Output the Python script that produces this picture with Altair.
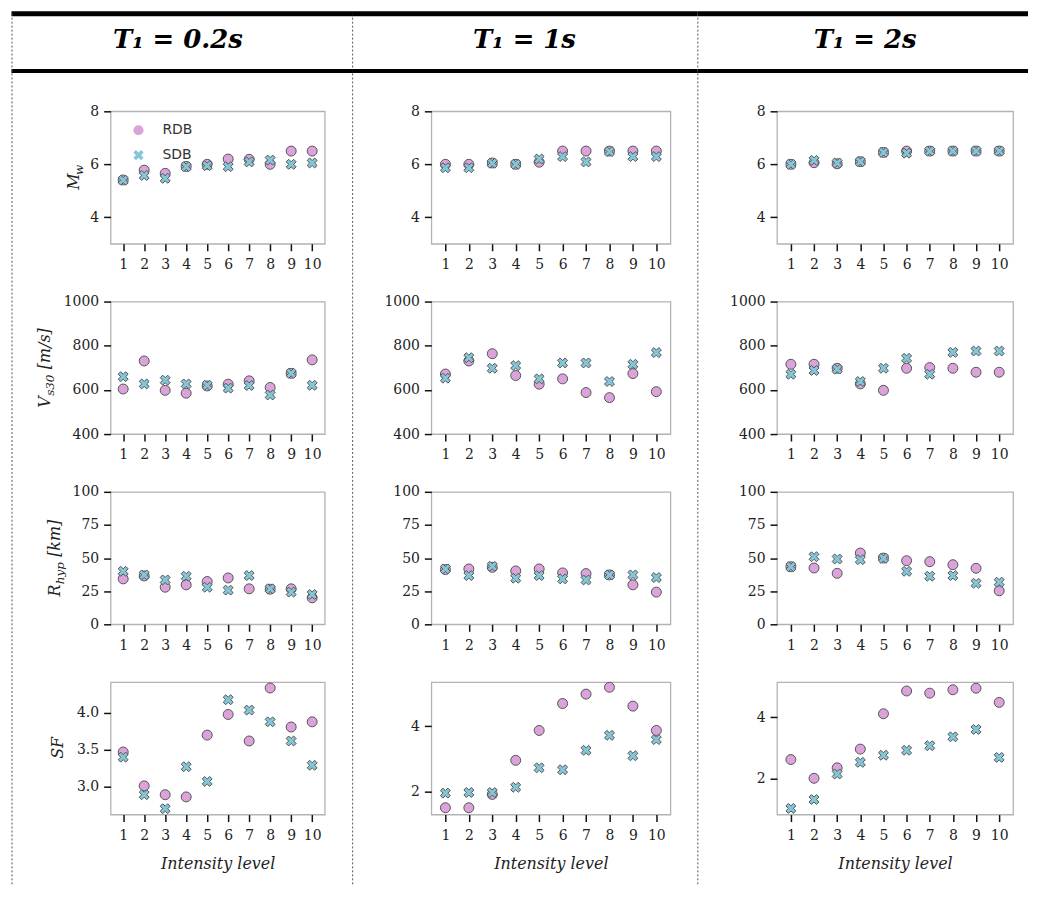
import altair as alt
import pandas as pd

# ---------------- data ----------------
LEVELS = list(range(1, 11))
SERIES = ["RDB", "SDB"]
PERIOD_LABELS = ["T\u2081 = 0.2s", "T\u2081 = 1s", "T\u2081 = 2s"]

# T1 = 0.2 s
mw_rdb_02 = [5.41, 5.78, 5.66, 5.92, 6.0, 6.2, 6.19, 6.0, 6.5, 6.5]
mw_sdb_02 = [5.4, 5.58, 5.47, 5.91, 5.95, 5.91, 6.09, 6.16, 6.0, 6.05]
vs_rdb_02 = [604, 731, 598, 585, 618, 626, 641, 611, 675, 736]
vs_sdb_02 = [660, 627, 644, 627, 621, 608, 620, 577, 675, 621]
rh_rdb_02 = [34.3, 36.5, 28.0, 29.8, 32.3, 35.0, 26.8, 26.5, 26.8, 20.0]
rh_sdb_02 = [40.0, 37.3, 33.5, 36.3, 28.0, 25.8, 36.8, 26.8, 24.3, 22.5]
sf_rdb_02 = [3.47, 3.01, 2.89, 2.86, 3.70, 3.98, 3.62, 4.34, 3.81, 3.88]
sf_sdb_02 = [3.40, 2.89, 2.70, 3.27, 3.07, 4.18, 4.04, 3.88, 3.62, 3.29]

# T1 = 1 s
mw_rdb_1 = [6.0, 6.0, 6.05, 6.0, 6.08, 6.5, 6.5, 6.5, 6.5, 6.5]
mw_sdb_1 = [5.87, 5.87, 6.04, 6.0, 6.2, 6.29, 6.09, 6.48, 6.29, 6.29]
vs_rdb_1 = [672, 731, 764, 665, 626, 650, 588, 565, 674, 592]
vs_sdb_1 = [653, 746, 698, 710, 650, 722, 722, 638, 716, 769]
rh_rdb_1 = [41.3, 41.8, 43.0, 40.3, 41.8, 38.8, 38.3, 37.3, 29.8, 24.3]
rh_sdb_1 = [41.8, 36.8, 43.8, 34.8, 36.8, 34.3, 33.5, 37.3, 37.3, 35.3]
sf_rdb_1 = [1.49, 1.49, 1.90, 2.95, 3.87, 4.70, 4.99, 5.20, 4.62, 3.87]
sf_sdb_1 = [1.94, 1.96, 1.96, 2.12, 2.72, 2.66, 3.26, 3.72, 3.09, 3.59]

# T1 = 2 s
mw_rdb_2 = [6.0, 6.06, 6.02, 6.1, 6.45, 6.5, 6.5, 6.5, 6.5, 6.5]
mw_sdb_2 = [6.0, 6.15, 6.05, 6.1, 6.45, 6.42, 6.5, 6.5, 6.5, 6.5]
vs_rdb_2 = [716, 716, 698, 627, 598, 698, 701, 698, 680, 680]
vs_sdb_2 = [671, 688, 694, 638, 698, 743, 671, 770, 776, 776]
rh_rdb_2 = [43.5, 42.5, 38.5, 53.8, 50.0, 48.0, 47.3, 45.0, 42.3, 25.3]
rh_sdb_2 = [43.5, 51.0, 49.3, 48.8, 49.8, 40.0, 36.3, 36.8, 31.0, 31.8]
sf_rdb_2 = [2.63, 2.02, 2.36, 2.97, 4.12, 4.86, 4.79, 4.90, 4.95, 4.49]
sf_sdb_2 = [1.04, 1.33, 2.16, 2.54, 2.77, 2.93, 3.08, 3.37, 3.61, 2.70]

PANELS = [
    [(mw_rdb_02, mw_sdb_02), (vs_rdb_02, vs_sdb_02), (rh_rdb_02, rh_sdb_02), (sf_rdb_02, sf_sdb_02)],
    [(mw_rdb_1, mw_sdb_1), (vs_rdb_1, vs_sdb_1), (rh_rdb_1, rh_sdb_1), (sf_rdb_1, sf_sdb_1)],
    [(mw_rdb_2, mw_sdb_2), (vs_rdb_2, vs_sdb_2), (rh_rdb_2, rh_sdb_2), (sf_rdb_2, sf_sdb_2)],
]

Y_DOMAINS = [
    [[3, 8], [400, 1000], [0, 100], [2.62, 4.42]],
    [[3, 8], [400, 1000], [0, 100], [1.28, 5.36]],
    [[3, 8], [400, 1000], [0, 100], [0.84, 5.15]],
]
Y_TICKS = [
    [[4, 6, 8], [400, 600, 800, 1000], [0, 25, 50, 75, 100], [3.0, 3.5, 4.0]],
    [[4, 6, 8], [400, 600, 800, 1000], [0, 25, 50, 75, 100], [2, 4]],
    [[4, 6, 8], [400, 600, 800, 1000], [0, 25, 50, 75, 100], [2, 4]],
]
Y_FORMATS = [["d", "d", "d", ".1f"], ["d", "d", "d", "d"], ["d", "d", "d", "d"]]

# y titles: (text, is_subscript, gap_before_px)
Y_TITLES = [
    [("M", False, 0), ("w", True, 0)],
    [("V", False, 0), ("s30", True, 0.5), ("[m/s]", False, 5)],
    [("R", False, 0), ("hyp", True, 0.5), ("[km]", False, 5)],
    [("SF", False, 0)],
]

# ---------------- styling ----------------
SERIF = "DejaVu Serif"
FILLS = ["#dca2da", "#84c5d6"]
EDGE = "#555555"
X_PATH = ("M-1,-0.5L-0.5,-1L0,-0.5L0.5,-1L1,-0.5L0.5,0L1,0.5"
          "L0.5,1L0,0.5L-0.5,1L-1,0.5L-0.5,0Z")
WIDTHS = [215, 240, 237]
PH = 133
HEADER_H = 39.5
ROW_SP = 58
COL_SP = 107

# header decorations (pixel offsets relative to each column's plot-left / header-top)
TEXT_X = [67.5, 93.5, 88.5]
TEXT_Y = 26
MID_LINE_Y = 57.5
HLINE = [(-99.5, 243), (-79.5, 267.5), (-79.5, 252)]
VLINES = [[-99, 243], [267.5], []]
VLINE_END = 876

W_EM = {"M": .92, "w": .80, "V": .72, "s": .53, "3": .64, "0": .64, " ": .32,
        "[": .39, "]": .39, "m": .95, "/": .34, "R": .73, "h": .64, "y": .60,
        "p": .64, "k": .60, "S": .65, "F": .67}
MAIN_FS, SUB_FS = 16, 12

one_row = pd.DataFrame({"k": [0]})


def text_width(s, fs):
    return sum(W_EM.get(c, .6) for c in s) * fs


def y_title_layers(pieces, ax, ay):
    total = sum(text_width(t, SUB_FS if sub else MAIN_FS) + g for t, sub, g in pieces)
    off = -total / 2
    layers = []
    for t, sub, gap in pieces:
        fs = SUB_FS if sub else MAIN_FS
        off += gap
        layers.append(
            alt.Chart(one_row).mark_text(
                angle=270, align="left", baseline="alphabetic", dx=off,
                dy=4 if sub else 0, font=SERIF, fontStyle="italic",
                fontSize=fs, color="#222"
            ).encode(x=alt.value(ax), y=alt.value(ay), text=alt.value(t))
        )
        off += text_width(t, fs)
    return layers


Y_TITLE_X = [-32, -61, -51, -48]


def panel(col, row):
    rdb, sdb = PANELS[col][row]
    df = pd.DataFrame({
        "level": LEVELS * 2,
        "value": list(rdb) + list(sdb),
        "series": ["RDB"] * len(rdb) + ["SDB"] * len(sdb),
    })
    if col == 0 and row == 0:
        leg = alt.Legend(title=None, orient="none", legendX=21, legendY=12,
                         symbolSize=105, symbolStrokeColor=EDGE,
                         symbolStrokeWidth=1, symbolOpacity=1,
                         labelFont="DejaVu Sans", labelFontSize=14,
                         labelColor="#333", labelOffset=17, rowPadding=9,
                         padding=0)
    else:
        leg = None
    if row == 3:
        x_enc = alt.X("level:Q", title="Intensity level",
                      scale=alt.Scale(domain=[0.4, 10.6], nice=False, zero=False),
                      axis=alt.Axis(values=LEVELS, format="d", labelAngle=0,
                                    labelPadding=7, titlePadding=13))
    else:
        x_enc = alt.X("level:Q", title=None,
                      scale=alt.Scale(domain=[0.4, 10.6], nice=False, zero=False),
                      axis=alt.Axis(values=LEVELS, format="d", labelAngle=0,
                                    labelPadding=7))
    pts = alt.Chart(df).mark_point(
        filled=True, opacity=1, size=100, stroke=EDGE, strokeWidth=1
    ).encode(
        x=x_enc,
        y=alt.Y("value:Q", title=None,
                scale=alt.Scale(domain=Y_DOMAINS[col][row], nice=False, zero=False),
                axis=alt.Axis(values=Y_TICKS[col][row], format=Y_FORMATS[col][row],
                              labelPadding=5)),
        color=alt.Color("series:N", scale=alt.Scale(domain=SERIES, range=FILLS), legend=leg),
        shape=alt.Shape("series:N", scale=alt.Scale(domain=SERIES, range=["circle", X_PATH]), legend=leg),
    )
    if col == 0:
        layers = [pts] + y_title_layers(Y_TITLES[row], Y_TITLE_X[row], PH / 2)
        return alt.layer(*layers).properties(width=WIDTHS[col], height=PH)
    return pts.properties(width=WIDTHS[col], height=PH)


def header(col):
    base = alt.Chart(one_row)
    x1, x2 = HLINE[col]
    layers = [
        base.mark_rule(color="black", strokeWidth=5).encode(
            x=alt.value(x1), x2=alt.value(x2), y=alt.value(0)),
        base.mark_rule(color="black", strokeWidth=4).encode(
            x=alt.value(x1), x2=alt.value(x2), y=alt.value(MID_LINE_Y)),
        base.mark_text(font=SERIF, fontSize=26, fontWeight="bold", fontStyle="italic",
                       align="center", baseline="middle", color="black").encode(
            x=alt.value(TEXT_X[col]), y=alt.value(TEXT_Y), text=alt.value(PERIOD_LABELS[col])),
    ]
    for vx in VLINES[col]:
        layers.append(base.mark_rule(color="#555555", strokeWidth=1, strokeDash=[2, 2]).encode(
            x=alt.value(vx), y=alt.value(0), y2=alt.value(VLINE_END)))
    return alt.layer(*layers).properties(
        width=WIDTHS[col], height=HEADER_H,
        view=alt.ViewBackground(stroke="transparent"))


cells = [header(c) for c in range(3)]
for r in range(4):
    for c in range(3):
        cells.append(panel(c, r))

chart = alt.concat(
    *cells, columns=3, bounds="flush",
    spacing={"row": ROW_SP, "column": COL_SP},
).resolve_scale(
    color="independent", shape="independent", x="independent", y="independent"
).resolve_legend(
    color="independent", shape="independent"
).properties(
    padding=0, background="white"
).configure_view(
    stroke="#b3b3b3", strokeWidth=1.3
).configure_axis(
    domain=False, grid=False, tickColor="#111111", tickWidth=1.5, tickSize=7,
    labelFont=SERIF, labelFontSize=14, labelColor="#222222",
    titleFont=SERIF, titleFontSize=16, titleFontStyle="italic",
    titleFontWeight="normal", titleColor="#222222"
)

chart.save("out.html", embed_options={"renderer": "svg", "actions": False})
